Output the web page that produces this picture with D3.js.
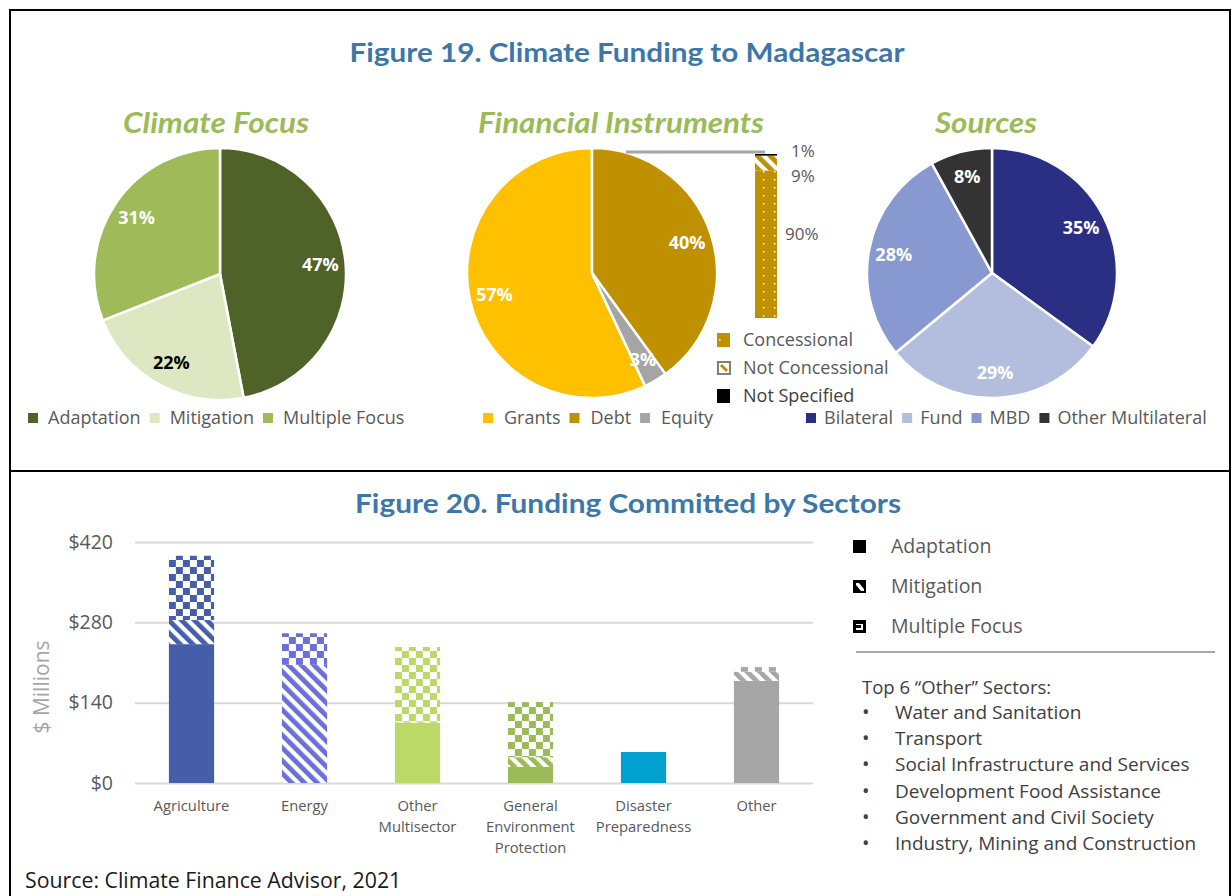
<!DOCTYPE html>
<html>
<head>
<meta charset="utf-8">
<script src="https://cdn.jsdelivr.net/npm/d3@7"></script>
<style>
  body { margin: 0; background: #fff; }
  svg { display: block; }
  text { font-family: 'Open Sans', sans-serif; }
</style>
</head>
<body>
<div id="chart"></div>
<script>
// ---- data ----
const focusLabels = ['Adaptation', 'Mitigation', 'Multiple Focus'];
const focusValues = [47, 22, 31];

// legend order; the pie starts Debt at 12 o'clock
const instrumentLabels = ['Grants', 'Debt', 'Equity'];
const instrumentValues = [57, 40, 3];

const debtLabels = ['Concessional', 'Not Concessional', 'Not Specified'];
const debtValues = [90, 9, 1];

const sourceLabels = ['Bilateral', 'Fund', 'MBD', 'Other Multilateral'];
const sourceValues = [35, 29, 28, 8];

const sectorLabels = [['Agriculture'], ['Energy'], ['Other', 'Multisector'],
  ['General', 'Environment', 'Protection'], ['Disaster', 'Preparedness'], ['Other']];
const adaptationValues = [242, 0, 105, 28, 54, 178];
const mitigationValues = [42, 206, 2, 17, 0, 16];
const multipleValues = [112, 55, 130, 96, 0, 8];
const yTicks = [0, 140, 280, 420];

const otherSectors = ['Water and Sanitation', 'Transport', 'Social Infrastructure and Services',
  'Development Food Assistance', 'Government and Civil Society', 'Industry, Mining and Construction'];

// ---- colours ----
const focusColors = ['#4f6228', '#dde8c3', '#9fba58'];
const focusText = ['#fff', '#000', '#fff'];
const instrumentColors = ['#ffc000', '#bf9000', '#a5a5a5'];
const sourceColors = ['#2b2f83', '#b3bedf', '#8898d1', '#333333'];
const sectorColors = ['#465ea9', '#6b70d6', '#bcd866', '#9bbb59', '#00a0d0', '#a6a6a6'];
const gold = '#bf9000';
const titleBlue = '#3d77aa';
const titleGreen = '#9bbb59';
const grey = '#595959';

const W = 1232, H = 896;
const svg = d3.select('#chart').append('svg').attr('width', W).attr('height', H);
const defs = svg.append('defs');

// ---- patterns ----
function checker(id, color, ox, oy) {
  const p = defs.append('pattern').attr('id', id).attr('patternUnits', 'userSpaceOnUse')
    .attr('width', 14).attr('height', 14)
    .attr('patternTransform', `translate(${ox},${oy})`);
  p.append('rect').attr('width', 14).attr('height', 14).attr('fill', '#fff');
  p.append('rect').attr('width', 7).attr('height', 7).attr('fill', color);
  p.append('rect').attr('x', 7).attr('y', 7).attr('width', 7).attr('height', 7).attr('fill', color);
}
function hatch(id, color, ox, oy) {
  const p = defs.append('pattern').attr('id', id).attr('patternUnits', 'userSpaceOnUse')
    .attr('width', 9).attr('height', 9)
    .attr('patternTransform', `translate(${ox},${oy}) rotate(-45)`);
  p.append('rect').attr('width', 9).attr('height', 9).attr('fill', '#fff');
  p.append('rect').attr('width', 4.8).attr('height', 9).attr('fill', color);
}
function dots(id, color) {
  const p = defs.append('pattern').attr('id', id).attr('patternUnits', 'userSpaceOnUse')
    .attr('width', 11).attr('height', 8);
  p.append('rect').attr('width', 11).attr('height', 8).attr('fill', color);
  p.append('rect').attr('x', 4).attr('y', 3).attr('width', 1.5).attr('height', 1.5).attr('fill', '#fff');
}

// ---- frame ----
svg.append('rect').attr('x', 10).attr('y', 10).attr('width', 1220).attr('height', 920)
  .attr('fill', 'none').attr('stroke', '#000').attr('stroke-width', 2);
svg.append('line').attr('x1', 10).attr('x2', 1230).attr('y1', 471).attr('y2', 471)
  .attr('stroke', '#000').attr('stroke-width', 2);

svg.append('text').attr('x', 627).attr('y', 62).attr('text-anchor', 'middle')
  .style('font-family', 'Lato, sans-serif').attr('font-weight', 700).attr('font-size', 27)
  .attr('fill', titleBlue).attr('textLength', 555).attr('lengthAdjust', 'spacingAndGlyphs')
  .text('Figure 19. Climate Funding to Madagascar');

// ---- pies ----
function drawPie(cfg) {
  const g = svg.append('g').attr('transform', `translate(${cfg.cx},${cfg.cy})`);
  const data = cfg.values.map((v, i) => ({ v, i }));
  const pie = d3.pie().sort(null).value(d => d.v)
    .startAngle(cfg.start).endAngle(cfg.start + 2 * Math.PI);
  const arc = d3.arc().innerRadius(0).outerRadius(cfg.r);
  const lab = d3.arc().innerRadius(cfg.r * 0.8).outerRadius(cfg.r * 0.8);
  const arcs = pie(data);

  g.selectAll('path').data(arcs).join('path')
    .attr('d', arc).attr('fill', d => cfg.colors[d.data.i])
    .attr('stroke', '#fff').attr('stroke-width', 2.5).attr('stroke-linejoin', 'round');

  g.selectAll('text.val').data(arcs).join('text').attr('class', 'val')
    .attr('transform', d => `translate(${lab.centroid(d)})`)
    .attr('text-anchor', 'middle').attr('dy', '0.36em')
    .attr('font-weight', 700).attr('font-size', 18)
    .attr('fill', d => cfg.textColors ? cfg.textColors[d.data.i] : '#fff')
    .text(d => d.data.v + '%');

  svg.append('text').attr('x', cfg.titleX).attr('y', 133)
    .style('font-family', 'Lato, sans-serif').attr('font-weight', 700).attr('font-style', 'italic')
    .attr('font-size', 28).attr('fill', titleGreen)
    .attr('textLength', cfg.titleLen).attr('lengthAdjust', 'spacingAndGlyphs')
    .text(cfg.title);

  // flowing legend
  let x = cfg.legendX;
  cfg.labels.forEach((l, i) => {
    svg.append('rect').attr('x', x).attr('y', 413).attr('width', 10).attr('height', 10)
      .attr('fill', cfg.colors[i]);
    const t = svg.append('text').attr('x', x + cfg.gap).attr('y', 424)
      .attr('font-size', 18).attr('fill', grey).text(l);
    x += cfg.gap + t.node().getComputedTextLength() + 9;
  });
}

drawPie({ cx: 220, cy: 274, r: 126, values: focusValues, labels: focusLabels,
  colors: focusColors, textColors: focusText, start: 0,
  title: 'Climate Focus', titleX: 123, titleLen: 186, legendX: 28, gap: 20 });

drawPie({ cx: 592, cy: 273, r: 125, values: instrumentValues, labels: instrumentLabels,
  colors: instrumentColors, start: -2 * Math.PI * instrumentValues[0] / d3.sum(instrumentValues),
  title: 'Financial Instruments', titleX: 478, titleLen: 286, legendX: 483, gap: 21 });

drawPie({ cx: 992, cy: 273, r: 125, values: sourceValues, labels: sourceLabels,
  colors: sourceColors, start: 0,
  title: 'Sources', titleX: 935, titleLen: 102, legendX: 806, gap: 18 });

// ---- debt breakdown bar (bar of pie) ----
hatch('hatch-debt', gold, 0, 0);
dots('dots-debt', gold);
const debtFills = ['url(#dots-debt)', 'url(#hatch-debt)', '#000'];
const by = d3.scaleLinear().domain([0, 100]).range([318, 154]);
const barX = 755, barW = 22;
svg.append('line').attr('x1', 626).attr('x2', barX + 10).attr('y1', 152).attr('y2', 152)
  .attr('stroke', '#a5a5a5').attr('stroke-width', 3);
let cum = 0, lastLabel = -Infinity;
const debtSegs = debtValues.map((v, i) => { const s = { v, i, y0: cum, y1: cum + v }; cum += v; return s; });
svg.selectAll('rect.debt').data(debtSegs).join('rect').attr('class', 'debt')
  .attr('x', barX).attr('width', barW)
  .attr('y', d => by(d.y1)).attr('height', d => by(d.y0) - by(d.y1))
  .attr('fill', d => debtFills[d.i]);
// labels from top down, pushed apart
[...debtSegs].reverse().forEach(d => {
  let y = Math.max(by((d.y0 + d.y1) / 2) - 4, lastLabel + 25);
  if (d.y1 - d.y0 > 50) y = by((d.y0 + d.y1) / 2) - 10;
  lastLabel = y;
  svg.append('text').attr('x', barX + (d.v > 9 ? 30 : 36)).attr('y', y).attr('dy', '0.36em')
    .attr('font-size', 17).attr('fill', grey).text(d.v + '%');
});
// legend
debtLabels.forEach((l, i) => {
  const y = 340 + i * 28;
  if (i === 1) {
    svg.append('rect').attr('x', 718).attr('y', y - 6).attr('width', 12).attr('height', 12)
      .attr('fill', '#fff').attr('stroke', '#7f7f7f').attr('stroke-width', 2);
    svg.append('line').attr('x1', 721).attr('y1', y - 3).attr('x2', 727).attr('y2', y + 3)
      .attr('stroke', gold).attr('stroke-width', 3);
  } else {
    svg.append('rect').attr('x', 717).attr('y', y - 7).attr('width', 13).attr('height', 14)
      .attr('fill', debtFills[i]);
  }
  svg.append('text').attr('x', 743).attr('y', y + 6).attr('font-size', 18)
    .attr('fill', i === 2 ? '#404040' : grey).text(l);
});

// ---- figure 20: stacked bars ----
svg.append('text').attr('x', 355).attr('y', 513)
  .style('font-family', 'Lato, sans-serif').attr('font-weight', 700).attr('font-size', 27)
  .attr('fill', titleBlue).attr('textLength', 546).attr('lengthAdjust', 'spacingAndGlyphs')
  .text('Figure 20. Funding Committed by Sectors');

const rows = sectorLabels.map((s, i) => ({
  i, adaptation: adaptationValues[i], mitigation: mitigationValues[i], multiple: multipleValues[i]
}));
const keys = ['adaptation', 'mitigation', 'multiple'];
const x = d3.scaleBand().domain(rows.map(d => d.i)).range([135, 813])
  .paddingInner(0.6).paddingOuter(0.3);
const y = d3.scaleLinear().domain([0, 420]).range([783, 542]);

const yAxis = svg.append('g').attr('transform', 'translate(135,0)')
  .call(d3.axisLeft(y).tickValues(yTicks).tickSize(-678).tickPadding(22).tickFormat(d => '$' + d));
yAxis.select('.domain').remove();
yAxis.selectAll('.tick line').attr('stroke', '#d9d9d9').attr('stroke-width', 2);
yAxis.selectAll('.tick text').attr('font-size', 19.5).attr('fill', grey)
  .style('font-family', "'Open Sans', sans-serif");

svg.append('text').attr('transform', 'translate(49,687) rotate(-90)').attr('text-anchor', 'middle')
  .attr('font-size', 21).attr('fill', '#a6a6a6').text('$ Millions');

rows.forEach(d => {
  const bx = x(d.i);
  checker('check-' + d.i, sectorColors[d.i], bx, 0);
  hatch('hatch-' + d.i, sectorColors[d.i], bx, 0);
});
const fillFor = (key, i) => key === 'adaptation' ? sectorColors[i]
  : key === 'mitigation' ? `url(#hatch-${i})` : `url(#check-${i})`;

const stack = d3.stack().keys(keys)(rows);
svg.append('g').selectAll('g').data(stack).join('g')
  .selectAll('rect').data(s => s.map(v => ({ key: s.key, v }))).join('rect')
  .attr('x', d => x(d.v.data.i)).attr('width', x.bandwidth())
  .attr('y', d => y(d.v[1])).attr('height', d => y(d.v[0]) - y(d.v[1]))
  .attr('fill', d => fillFor(d.key, d.v.data.i));

// category labels
const xl = svg.append('g');
rows.forEach(d => {
  const t = xl.append('text').attr('x', x(d.i) + x.bandwidth() / 2).attr('y', 811)
    .attr('text-anchor', 'middle').attr('font-size', 14.8).attr('fill', grey);
  sectorLabels[d.i].forEach((line, k) => {
    t.append('tspan').attr('x', x(d.i) + x.bandwidth() / 2).attr('dy', k ? 21 : 0).text(line);
  });
});

// legend for fig 20
const legRows = [547, 587, 627];
svg.append('rect').attr('x', 853).attr('y', legRows[0] - 7).attr('width', 13).attr('height', 13).attr('fill', '#000');
svg.append('rect').attr('x', 853).attr('y', legRows[1] - 7).attr('width', 13).attr('height', 13).attr('fill', '#000');
svg.append('polygon')
  .attr('points', `${856},${legRows[1] - 4} ${859},${legRows[1] - 4} ${864},${legRows[1] + 2} ${864},${legRows[1] + 4} ${861},${legRows[1] + 4} ${856},${legRows[1] - 2}`)
  .attr('fill', '#fff');
svg.append('rect').attr('x', 853).attr('y', legRows[2] - 7).attr('width', 13).attr('height', 13).attr('fill', '#000');
svg.append('rect').attr('x', 856).attr('y', legRows[2] - 3).attr('width', 7).attr('height', 6).attr('fill', '#fff');
svg.append('rect').attr('x', 856).attr('y', legRows[2] - 2).attr('width', 5).attr('height', 3).attr('fill', '#000');
['Adaptation', 'Mitigation', 'Multiple Focus'].forEach((l, i) => {
  svg.append('text').attr('x', 891).attr('y', legRows[i] + 6).attr('font-size', 19.5)
    .attr('fill', grey).text(l);
});
svg.append('line').attr('x1', 856).attr('x2', 1215).attr('y1', 652).attr('y2', 652)
  .attr('stroke', '#a6a6a6').attr('stroke-width', 2);

svg.append('text').attr('x', 862).attr('y', 694).attr('font-size', 18.5).attr('fill', '#404040')
  .text('Top 6 \u201cOther\u201d Sectors:');
otherSectors.forEach((s, i) => {
  const yy = 719 + i * 26.2;
  svg.append('text').attr('x', 862).attr('y', yy).attr('font-size', 20).attr('fill', '#404040').text('\u2022');
  svg.append('text').attr('x', 895).attr('y', yy).attr('font-size', 19).attr('fill', '#404040').text(s);
});

svg.append('text').attr('x', 25).attr('y', 888).attr('font-size', 21.3).attr('fill', '#1a1a1a')
  .text('Source: Climate Finance Advisor, 2021');
</script>
</body>
</html>
